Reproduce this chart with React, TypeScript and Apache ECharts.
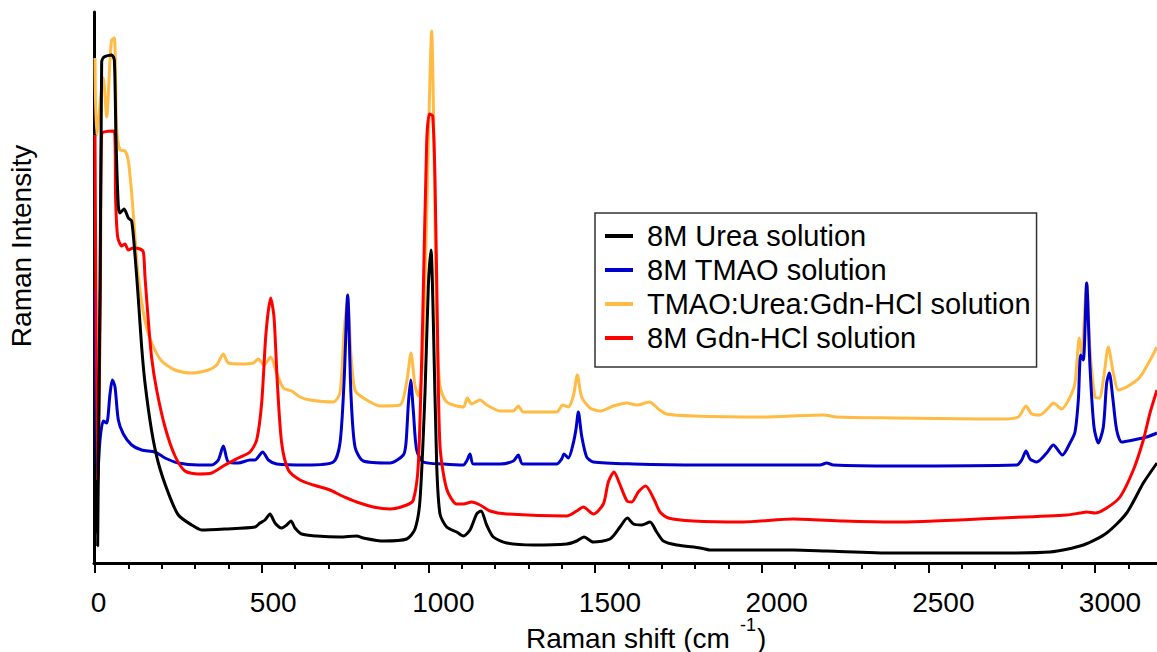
import React, { useEffect, useRef } from 'react';
import * as echarts from 'echarts';

const FONT = 'Arial, "Liberation Sans", Helvetica, sans-serif';

const seriesNames = ['8M Urea solution', '8M TMAO solution', 'TMAO:Urea:Gdn-HCl solution', '8M Gdn-HCl solution'];
const seriesColors = ['#000000', '#0000CC', '#FFBB44', '#FF0000'];
const majorTicks = [0, 500, 1000, 1500, 2000, 2500, 3000];
const minorTicks = [0, 100, 200, 300, 400, 500, 600, 700, 800, 900, 1000, 1100, 1200, 1300, 1400, 1500, 1600, 1700, 1800, 1900, 2000, 2100, 2200, 2300, 2400, 2500, 2600, 2700, 2800, 2900, 3000, 3100];

// Raman shift (cm-1), intensity (arb. units)
const urea: [number, number][] = [
  [2, 83], [8, 17], [20, 501], [27, 506], [50, 508], [58, 503], [63, 423], [70, 357], [75, 350], [87, 354], [100, 345], [110, 342],
  [120, 308], [130, 264], [140, 216], [150, 180], [170, 132], [190, 100], [220, 70], [250, 48], [290, 38], [320, 33], [390, 34],
  [480, 36], [495, 40], [510, 43], [525, 49], [540, 40], [560, 35], [575, 38], [588, 42], [600, 35], [620, 29], [665, 27], [735, 26],
  [785, 27], [805, 25], [865, 22], [935, 24], [960, 34], [975, 63], [990, 170], [1000, 277], [1008, 313], [1015, 242], [1025, 99],
  [1035, 49], [1055, 36], [1085, 31], [1105, 27], [1125, 33], [1145, 49], [1158, 52], [1175, 38], [1195, 26], [1235, 20], [1315, 18],
  [1415, 19], [1445, 22], [1467, 26], [1495, 21], [1545, 24], [1575, 36], [1597, 45], [1615, 39], [1640, 38], [1665, 41], [1685, 31],
  [1705, 22], [1745, 18], [1815, 15], [1845, 13], [2095, 13], [2195, 12], [2395, 10], [2655, 10], [2715, 10], [2865, 11], [2965, 18],
  [3035, 30], [3095, 50], [3145, 80], [3186, 100]
];

const tmao: [number, number][] = [
  [0, 273], [7, 78], [15, 123], [25, 142], [35, 140], [45, 169], [52, 183], [60, 176], [70, 143], [85, 129], [110, 118], [140, 113],
  [180, 111], [210, 105], [250, 100], [310, 98], [350, 98], [370, 103], [385, 117], [400, 101], [430, 100], [465, 103], [480, 103],
  [503, 111], [520, 103], [545, 99], [635, 98], [715, 101], [735, 120], [747, 180], [758, 268], [768, 168], [780, 116], [805, 102],
  [885, 100], [925, 108], [933, 120], [940, 159], [947, 183], [955, 152], [965, 113], [985, 101], [1045, 99], [1105, 98], [1115, 102],
  [1125, 109], [1135, 99], [1215, 99], [1255, 102], [1270, 108], [1283, 99], [1385, 99], [1400, 104], [1407, 109], [1420, 105],
  [1435, 120], [1443, 134], [1450, 151], [1460, 127], [1475, 106], [1495, 101], [1615, 99], [1815, 98], [2175, 98], [2195, 100],
  [2215, 98], [2395, 97], [2765, 98], [2780, 103], [2793, 112], [2805, 104], [2825, 101], [2855, 110], [2875, 118], [2902, 108],
  [2925, 120], [2940, 131], [2950, 163], [2957, 208], [2965, 203], [2975, 280], [2985, 196], [2997, 136], [3010, 120], [3025, 136],
  [3035, 180], [3043, 190], [3053, 166], [3065, 133], [3080, 121], [3115, 123], [3155, 126], [3186, 130]
];

const mix: [number, number][] = [
  [0, 505], [5, 428], [25, 485], [35, 446], [45, 503], [50, 523], [58, 525], [65, 435], [75, 413], [90, 412], [100, 402], [110, 370],
  [120, 326], [130, 286], [150, 242], [170, 220], [200, 202], [240, 193], [290, 190], [340, 193], [365, 198], [385, 209], [400, 200],
  [440, 199], [475, 200], [490, 204], [507, 198], [527, 206], [545, 190], [565, 175], [590, 172], [615, 166], [645, 163], [715, 161],
  [735, 170], [747, 230], [758, 265], [768, 208], [780, 173], [805, 165], [855, 157], [915, 158], [935, 181], [948, 210], [960, 177],
  [970, 167], [980, 188], [990, 277], [1000, 420], [1010, 532], [1017, 420], [1025, 242], [1035, 177], [1055, 161], [1105, 156],
  [1117, 165], [1130, 159], [1155, 163], [1175, 158], [1215, 152], [1255, 152], [1270, 157], [1285, 151], [1385, 151], [1403, 158],
  [1420, 156], [1435, 167], [1447, 188], [1460, 166], [1485, 155], [1515, 152], [1555, 157], [1595, 160], [1625, 158], [1664, 161],
  [1690, 154], [1715, 149], [1795, 147], [1995, 146], [2185, 148], [2225, 146], [2395, 145], [2655, 144], [2715, 144], [2770, 146],
  [2793, 157], [2810, 149], [2835, 148], [2860, 155], [2875, 160], [2900, 154], [2925, 166], [2940, 180], [2953, 225], [2960, 210],
  [2975, 280], [2985, 213], [3000, 166], [3013, 165], [3025, 183], [3040, 216], [3055, 190], [3070, 173], [3095, 176], [3135, 186],
  [3186, 216]
];

const gdn: [number, number][] = [
  [0, 428], [8, 78], [16, 263], [20, 429], [58, 432], [62, 362], [68, 326], [80, 317], [90, 319], [100, 313], [115, 315], [135, 314],
  [145, 311], [150, 286], [160, 242], [170, 205], [185, 173], [210, 136], [240, 107], [270, 92], [310, 89], [350, 90], [390, 98],
  [430, 105], [465, 111], [485, 123], [500, 160], [513, 230], [527, 265], [537, 246], [547, 180], [560, 120], [580, 93], [615, 83],
  [655, 78], [705, 73], [735, 68], [755, 65], [785, 61], [835, 56], [885, 54], [935, 58], [955, 63], [970, 99], [983, 242], [995, 420],
  [1003, 449], [1013, 447], [1020, 384], [1027, 242], [1035, 117], [1055, 74], [1085, 59], [1105, 59], [1130, 61], [1155, 58],
  [1185, 52], [1235, 49], [1415, 47], [1445, 52], [1465, 56], [1495, 49], [1525, 59], [1540, 81], [1557, 91], [1573, 80], [1596, 62],
  [1610, 61], [1630, 71], [1652, 77], [1678, 63], [1695, 51], [1720, 45], [1795, 42], [1945, 41], [2095, 44], [2245, 42], [2395, 41],
  [2715, 45], [2915, 48], [2955, 50], [2975, 51], [3000, 50], [3035, 55], [3075, 66], [3115, 93], [3145, 123], [3165, 150], [3186, 173]
];

function hasNarrowFont(): boolean {
  try {
    const ctx = document.createElement('canvas').getContext('2d');
    if (!ctx) return false;
    ctx.font = '34px "Liberation Sans Narrow", monospace';
    const a = ctx.measureText('1000 Raman').width;
    ctx.font = '34px monospace';
    const b = ctx.measureText('1000 Raman').width;
    return Math.abs(a - b) > 1;
  } catch (e) {
    return false;
  }
}

export default function App() {
  const ref = useRef<HTMLDivElement>(null);
  useEffect(() => {
    if (!ref.current) return;
    const chart = echarts.init(ref.current, undefined, { renderer: 'svg' });
    const narrow = hasNarrowFont();
    const tickFont = narrow ? '"Liberation Sans Narrow", "Arial Narrow", sans-serif' : FONT;
    const tickSize = narrow ? 34 : 28;
    const tickMargin = narrow ? 22 : 25;
    const tok = (pad: number) => ({ fontSize: tickSize, fontFamily: tickFont, color: '#000', padding: [0, 0, 0, pad] });
    const mk = (name: string, data: [number, number][], color: string) => ({
      name,
      type: 'line',
      data,
      xAxisIndex: 0,
      yAxisIndex: 0,
      showSymbol: false,
      symbol: 'none',
      smooth: 0.25,
      lineStyle: { color, width: 3 },
      itemStyle: { color },
    });
    chart.setOption({
      animation: false,
      backgroundColor: '#ffffff',
      grid: { left: 94, top: 12, width: 1063, height: 551, containLabel: false },
      xAxis: [
        {
          type: 'value', min: -3, max: 3186, position: 'bottom',
          axisLine: { show: true, onZero: false, lineStyle: { color: '#000', width: 3 } },
          axisTick: { show: true, customValues: majorTicks, length: 10, inside: false, lineStyle: { color: '#000', width: 2 } },
          axisLabel: {
            show: true, customValues: majorTicks,
            formatter: (v: number) => (v === 0 ? `{a|${v}}` : v === 500 ? `{b|${v}}` : `{c|${v}}`),
            rich: { a: tok(7), b: tok(23), c: tok(30) },
            fontSize: tickSize, color: '#000', fontFamily: tickFont, margin: tickMargin,
          },
          splitLine: { show: false },
        },
        {
          type: 'value', min: -3, max: 3186, position: 'bottom',
          axisLine: { show: false, onZero: false },
          axisTick: { show: true, customValues: minorTicks, length: 6, inside: false, lineStyle: { color: '#000', width: 2 } },
          axisLabel: { show: false },
          splitLine: { show: false },
        },
      ],
      yAxis: {
        type: 'value', min: 0, max: 551,
        axisLine: { show: true, onZero: false, lineStyle: { color: '#000', width: 3 } },
        axisTick: { show: false },
        axisLabel: { show: false },
        splitLine: { show: false },
      },
      legend: {
        data: seriesNames,
        orient: 'vertical',
        left: 595,
        top: 213,
        icon: 'rect',
        itemWidth: 28,
        itemHeight: 4,
        itemGap: 0,
        padding: [6, 6, 12, 10],
        borderColor: '#333',
        borderWidth: 1.5,
        textStyle: { fontSize: 29, lineHeight: 34, color: '#000', fontFamily: FONT, padding: [0, 0, 0, 9] },
      },
      graphic: [
        { type: 'text', x: 526, y: 638, style: { text: 'Raman shift (cm', font: `28px ${FONT}`, fill: '#000', align: 'left', verticalAlign: 'middle' } },
        { type: 'text', x: 740, y: 625, style: { text: '-1', font: `18px ${FONT}`, fill: '#000', align: 'left', verticalAlign: 'middle' } },
        { type: 'text', x: 757, y: 638, style: { text: ')', font: `28px ${FONT}`, fill: '#000', align: 'left', verticalAlign: 'middle' } },
        { type: 'text', x: 21, y: 246, rotation: Math.PI / 2, style: { text: 'Raman Intensity', font: `28px ${FONT}`, fill: '#000', align: 'center', verticalAlign: 'middle' } },
      ],
      series: [
        mk(seriesNames[2], mix, seriesColors[2]),
        mk(seriesNames[1], tmao, seriesColors[1]),
        mk(seriesNames[3], gdn, seriesColors[3]),
        mk(seriesNames[0], urea, seriesColors[0]),
      ],
    });
    return () => chart.dispose();
  }, []);
  return <div ref={ref} style={{ position: 'fixed', left: 0, top: 0, width: 1157, height: 652, background: '#fff' }} />;
}
